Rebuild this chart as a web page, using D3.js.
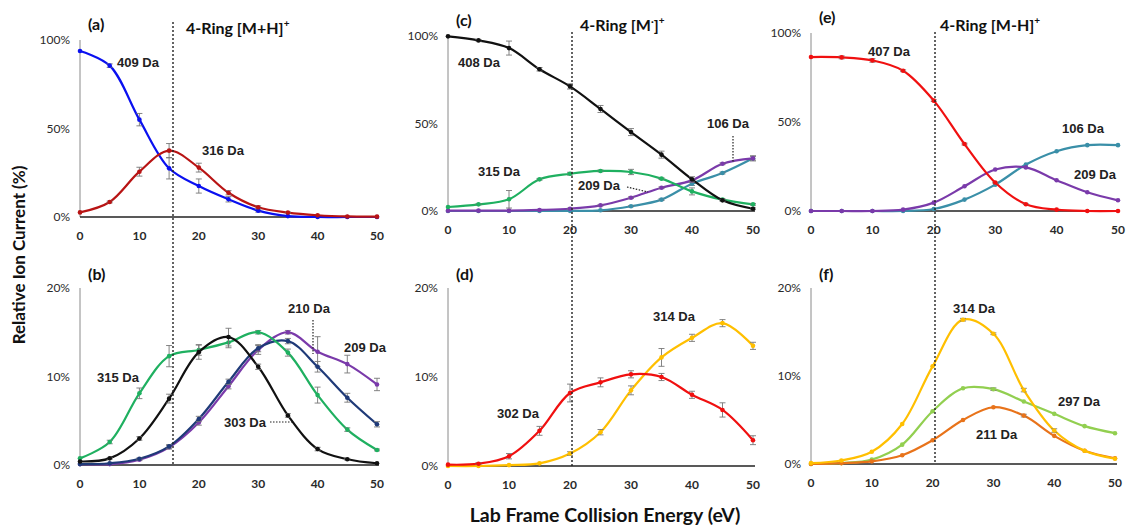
<!DOCTYPE html>
<meta charset="utf-8">
<title>4-Ring CID breakdown</title>
<script src="https://d3js.org/d3.v7.min.js"></script>
<style>
  body { margin: 0; background: #fff; }
  text { font-family: "Liberation Sans", Arial, sans-serif; }
  .tick { font-family: Lato, "Open Sans", sans-serif; font-size: 12px; fill: #2a2a2a; }
  .lab { font-weight: bold; font-size: 13px; fill: #222; }
  .ttl { font-family: Lato, "Open Sans", sans-serif; font-weight: bold; fill: #111; }
</style>
<body>
</body>
<script>
var energy = [0, 5, 10, 15, 20, 25, 30, 35, 40, 45, 50];

// panel (a)  [M+H]+
var a409 = [93.8, 85.5, 55, 27.5, 17.5, 10, 3.6, 0.5, 0, 0, 0];
var a409Err = [0, 1, 3.5, 6, 4, 1.5, 0.8, 0, 0, 0, 0];
var a316 = [2.6, 8.5, 25.6, 37.5, 27.9, 13.7, 5.5, 2.5, 1.0, 0.3, 0.2];
var a316Err = [0, 0.5, 2.5, 4, 2.5, 1.2, 0.8, 0.3, 0, 0, 0];

// panel (b)
var b315 = [0.75, 2.6, 8.1, 12.3, 13.0, 13.85, 15.0, 12.7, 7.9, 4.0, 1.7];
var b315Err = [0, 0.2, 0.6, 1.2, 0.6, 0.6, 0.2, 0.4, 0.9, 0.2, 0.1];
var b303 = [0.4, 0.75, 3.0, 7.5, 12.75, 14.45, 11.1, 5.6, 1.8, 0.65, 0.2];
var b303Err = [0, 0.1, 0.2, 0.5, 0.8, 1.0, 0.3, 0.2, 0.2, 0.1, 0];
var b210 = [0.1, 0.2, 0.7, 2.1, 5.2, 9.4, 13.2, 14.0, 11.1, 7.6, 4.6];
var b210Err = [0, 0, 0.1, 0.2, 0.3, 0.3, 0.4, 0.3, 0.6, 0.5, 0.3];
var b209 = [0.1, 0.1, 0.6, 2.0, 4.8, 8.9, 13.0, 15.0, 12.8, 11.4, 9.1];
var b209Err = [0, 0, 0.1, 0.2, 0.3, 0.3, 0.5, 0.2, 1.7, 1.0, 0.7];

// panel (c)  [M.]+
var c408 = [99.8, 97.5, 93.1, 81, 71.2, 58.3, 45.1, 32.2, 18.1, 6.1, 1.3];
var c408Err = [0, 0.5, 4, 1, 1.5, 2, 2, 2, 1.5, 0.5, 0.5];
var c315 = [2.3, 3.8, 6.7, 18.1, 21.3, 22.9, 22.3, 18.5, 11.2, 6.5, 3.8];
var c315Err = [0, 0.3, 5, 0.5, 0.8, 0.5, 1.5, 0.5, 2, 0.5, 0.5];
var c209 = [0.2, 0.2, 0.2, 0.6, 1.3, 3.2, 7.6, 13.3, 17.5, 27, 30.1];
var c209Err = [0, 0, 0, 0, 0.3, 0.3, 0.5, 0.5, 1, 0.5, 1];
var c106 = [0, 0, 0, 0, 0.1, 0.4, 2.7, 6.5, 15.6, 21.7, 30.1];
var c106Err = [0, 0, 0, 0, 0, 0, 0.3, 0.5, 1, 0.5, 1.5];

// panel (d)
var d302 = [0.15, 0.26, 1.1, 3.95, 8.2, 9.4, 10.3, 10.0, 8.0, 6.3, 2.9];
var d302Err = [0, 0.1, 0.3, 0.5, 1.0, 0.5, 0.4, 0.4, 0.4, 0.8, 0.5];
var d314 = [0, 0, 0.1, 0.3, 1.4, 3.8, 8.5, 12.2, 14.4, 16.05, 13.5];
var d314Err = [0, 0, 0, 0, 0.2, 0.3, 0.5, 1.0, 0.4, 0.4, 0.4];

// panel (e)  [M-H]+
var e407 = [86.5, 86.3, 84.6, 78.8, 62, 37.6, 16, 3.8, 0.75, 0, 0];
var e407Err = [0, 0.8, 1, 0.5, 0.5, 0.5, 0.3, 0.2, 0, 0, 0];
var e209 = [0, 0, 0, 0.75, 4.7, 13.9, 23.3, 24.5, 17.3, 10.5, 6.0];
var e106 = [0, 0, 0, 0, 1.1, 6.4, 14.8, 26.1, 33.6, 37, 37];

// panel (f)
var f314 = [0.1, 0.4, 1.4, 4.55, 11.1, 16.4, 14.8, 8.4, 3.8, 1.5, 0.6];
var f314Err = [0, 0, 0, 0, 0, 0.15, 0.1, 0.2, 0.2, 0, 0];
var f297 = [0, 0.1, 0.5, 2.2, 6, 8.6, 8.5, 7.1, 5.7, 4.3, 3.5];
var f297Err = [0, 0, 0, 0, 0, 0, 0.15, 0, 0, 0, 0];
var f211 = [0, 0.1, 0.3, 1.0, 2.7, 5.0, 6.45, 5.5, 3.2, 1.5, 0.65];
var f211Err = [0, 0, 0, 0, 0, 0, 0, 0.15, 0, 0, 0];

var topTicks = [0, 50, 100];
var bottomTicks = [0, 10, 20];
var xTicks = [0, 10, 20, 30, 40, 50];

var panels = [
  {id: "(a)", left: 80, right: 377, top: 40, bottom: 217, max: 100, ticks: topTicks,
   series: [{v: a409, e: a409Err, c: "#0a10f0"}, {v: a316, e: a316Err, c: "#b81414"}],
   labels: [{t: "409 Da", x: 117, y: 67}, {t: "316 Da", x: 202, y: 155}]},
  {id: "(b)", left: 80, right: 377, top: 288, bottom: 465, max: 20, ticks: bottomTicks,
   series: [{v: b209, e: b209Err, c: "#7a3aaa"}, {v: b210, e: b210Err, c: "#1f3a78"},
            {v: b315, e: b315Err, c: "#1fb060"}, {v: b303, e: b303Err, c: "#111"}],
   labels: [{t: "315 Da", x: 97, y: 382}, {t: "303 Da", x: 224, y: 427},
            {t: "210 Da", x: 288, y: 313}, {t: "209 Da", x: 344, y: 352}],
   pointers: [[270, 422, 292, 422], [313, 320, 313, 354]]},
  {id: "(c)", left: 448, right: 753, top: 36, bottom: 211, max: 100, ticks: topTicks,
   series: [{v: c106, e: c106Err, c: "#3a8fa8"}, {v: c209, e: c209Err, c: "#7a3aaa"},
            {v: c315, e: c315Err, c: "#1fb060"}, {v: c408, e: c408Err, c: "#111"}],
   labels: [{t: "408 Da", x: 458, y: 67}, {t: "315 Da", x: 478, y: 176},
            {t: "209 Da", x: 578, y: 190}, {t: "106 Da", x: 707, y: 128}],
   pointers: [[627, 187, 648, 192], [733, 136, 733, 163]]},
  {id: "(d)", left: 448, right: 753, top: 288, bottom: 466, max: 20, ticks: bottomTicks,
   series: [{v: d314, e: d314Err, c: "#ffbf00"}, {v: d302, e: d302Err, c: "#f01010"}],
   labels: [{t: "302 Da", x: 497, y: 418}, {t: "314 Da", x: 653, y: 321}]},
  {id: "(e)", left: 811, right: 1118, top: 33, bottom: 211, max: 100, ticks: topTicks,
   series: [{v: e106, c: "#3a8fa8"}, {v: e209, c: "#7a3aaa"}, {v: e407, e: e407Err, c: "#f01010"}],
   labels: [{t: "407 Da", x: 868, y: 56}, {t: "106 Da", x: 1062, y: 133}, {t: "209 Da", x: 1074, y: 179}]},
  {id: "(f)", left: 811, right: 1115, top: 288, bottom: 464, max: 20, ticks: bottomTicks,
   series: [{v: f297, e: f297Err, c: "#92cf50"}, {v: f211, e: f211Err, c: "#e8731a"}, {v: f314, e: f314Err, c: "#ffbf00"}],
   labels: [{t: "314 Da", x: 953, y: 313}, {t: "297 Da", x: 1058, y: 406}, {t: "211 Da", x: 976, y: 439}]}
];

var svg = d3.select("body").append("svg")
  .attr("width", 1128)
  .attr("height", 531);

panels.forEach(function (p) {
  var x = d3.scaleLinear().domain([0, 50]).range([p.left, p.right]);
  var y = d3.scaleLinear().domain([0, p.max]).range([p.bottom, p.top]);
  var g = svg.append("g");

  // axes
  g.append("line").attr("x1", p.left).attr("x2", p.left).attr("y1", p.top).attr("y2", p.bottom)
    .attr("stroke", "#8a8a8a").attr("stroke-width", 1);
  g.append("line").attr("x1", p.left).attr("x2", p.right + 2).attr("y1", p.bottom).attr("y2", p.bottom)
    .attr("stroke", "#222").attr("stroke-width", 1.3);

  g.selectAll(".yt").data(p.ticks).enter().append("text")
    .attr("class", "tick")
    .attr("x", p.left - 10).attr("y", function (d) { return y(d) + 4; })
    .attr("text-anchor", "end")
    .text(function (d) { return d + "%"; });
  g.selectAll(".xt").data(xTicks).enter().append("text")
    .attr("class", "tick")
    .attr("font-weight", "bold")
    .attr("x", function (d) { return x(d); }).attr("y", p.bottom + 23)
    .attr("text-anchor", "middle")
    .text(function (d) { return d; });

  var line = d3.line()
    .x(function (d, i) { return x(energy[i]); })
    .y(function (d) { return y(d); })
    .curve(d3.curveCatmullRom.alpha(0.5));

  p.series.forEach(function (s) {
    g.append("path").datum(s.v)
      .attr("d", line).attr("fill", "none")
      .attr("stroke", s.c).attr("stroke-width", 2.2);
    if (s.e) {
      var eb = g.append("g").attr("stroke", "#777").attr("stroke-width", 0.9);
      s.v.forEach(function (v, i) {
        var err = s.e[i];
        if (!err) return;
        var cx = x(energy[i]);
        eb.append("line").attr("x1", cx).attr("x2", cx).attr("y1", y(v - err)).attr("y2", y(v + err));
        eb.append("line").attr("x1", cx - 3).attr("x2", cx + 3).attr("y1", y(v - err)).attr("y2", y(v - err));
        eb.append("line").attr("x1", cx - 3).attr("x2", cx + 3).attr("y1", y(v + err)).attr("y2", y(v + err));
      });
    }
    g.selectAll(null).data(s.v).enter().append("circle")
      .attr("cx", function (d, i) { return x(energy[i]); })
      .attr("cy", function (d) { return y(d); })
      .attr("r", 2.3)
      .attr("fill", s.c);
  });

  p.labels.forEach(function (l) {
    g.append("text").attr("class", "lab").attr("x", l.x).attr("y", l.y).text(l.t);
  });
  (p.pointers || []).forEach(function (q) {
    g.append("line").attr("x1", q[0]).attr("y1", q[1]).attr("x2", q[2]).attr("y2", q[3])
      .attr("stroke", "#222").attr("stroke-width", 1.2).attr("stroke-dasharray", "1.5,1.5");
  });

  g.append("text").attr("class", "ttl").attr("font-size", 16)
    .attr("x", p.left + 8).attr("y", p.top - (p.max === 100 ? 10 : 8))
    .text(p.id);
});

// dotted threshold lines through each column
var dotted = [
  {x: 173, top: 22, bottom: 466},
  {x: 572, top: 32, bottom: 466},
  {x: 935, top: 32, bottom: 464}
];
svg.selectAll(".dot").data(dotted).enter().append("line")
  .attr("x1", function (d) { return d.x; }).attr("x2", function (d) { return d.x; })
  .attr("y1", function (d) { return d.top; }).attr("y2", function (d) { return d.bottom; })
  .attr("stroke", "#222").attr("stroke-width", 1.4).attr("stroke-dasharray", "2,2");

function title(xp, yp, main, mid) {
  var t = svg.append("text").attr("class", "ttl").attr("font-size", 16).attr("x", xp).attr("y", yp);
  t.append("tspan").text(main);
  if (mid) t.append("tspan").attr("font-size", 10).attr("dy", -6).text(mid);
  t.append("tspan").attr("dy", mid ? 6 : 0).text("]");
  t.append("tspan").attr("font-size", 10).attr("dy", -7).text("+");
}
title(186, 34, "4-Ring [M+H");
title(580, 31, "4-Ring [M", "·");
title(940, 31, "4-Ring [M-H");

svg.append("text").attr("class", "ttl").attr("font-size", 17)
  .attr("transform", "translate(25,255) rotate(-90)")
  .attr("text-anchor", "middle")
  .text("Relative Ion Current (%)");
svg.append("text").attr("class", "ttl").attr("font-size", 19.5)
  .attr("x", 605).attr("y", 522)
  .attr("text-anchor", "middle")
  .text("Lab Frame Collision Energy (eV)");
</script>
